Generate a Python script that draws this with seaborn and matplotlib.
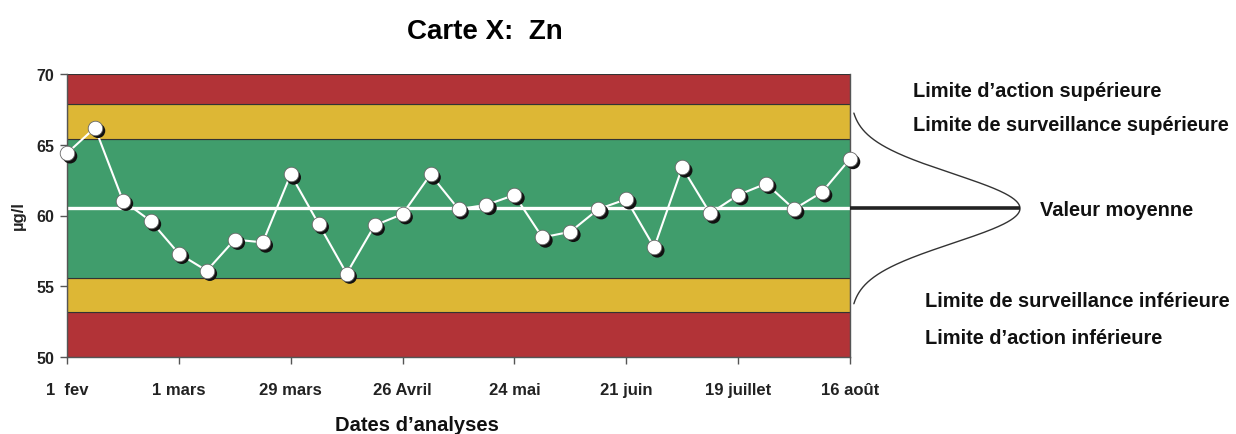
import matplotlib
matplotlib.use("Agg")
import matplotlib.pyplot as plt
import matplotlib.transforms as mtransforms
import numpy as np
import pandas as pd
import seaborn as sns

# weekly analyses, Zn (µg/l)
dates = ["2009-02-01", "2009-02-08", "2009-02-15", "2009-02-22", "2009-03-01",
         "2009-03-08", "2009-03-15", "2009-03-22", "2009-03-29", "2009-04-05",
         "2009-04-12", "2009-04-19", "2009-04-26", "2009-05-03", "2009-05-10",
         "2009-05-17", "2009-05-24", "2009-05-31", "2009-06-07", "2009-06-14",
         "2009-06-21", "2009-06-28", "2009-07-05", "2009-07-12", "2009-07-19",
         "2009-07-26", "2009-08-02", "2009-08-09", "2009-08-16"]
zn = [64.4, 66.2, 61.05, 59.6, 57.3, 56.1, 58.3, 58.1, 62.9, 59.4,
      55.9, 59.3, 60.1, 62.9, 60.45, 60.75, 61.45, 58.45, 58.85, 60.45,
      61.15, 57.75, 63.4, 60.15, 61.45, 62.25, 60.45, 61.65, 64.0]

mean_val = 60.5
sigma = 2.45

tick_dates = ["2009-02-01", "2009-03-01", "2009-03-29", "2009-04-26",
              "2009-05-24", "2009-06-21", "2009-07-19", "2009-08-16"]
tick_labels = ["1  fev", "1 mars", "29 mars", "26 Avril", "24 mai",
               "21 juin", "19 juillet", "16 août"]

zone_labels = ["Limite d\u2019action supérieure",
               "Limite de surveillance supérieure",
               "Valeur moyenne",
               "Limite de surveillance inférieure",
               "Limite d\u2019action inférieure"]

df = pd.DataFrame({"date": pd.to_datetime(dates), "zn": zn})

sns.set_style("white")
plt.rcParams["font.family"] = ["Liberation Sans", "DejaVu Sans"]

RED = "#b23337"
YELLOW = "#ddb735"
GREEN = "#409d6c"

fig = plt.figure(figsize=(12.36, 4.35), dpi=100)
ax = fig.add_axes([67 / 1236, 77 / 435, 783 / 1236, 283 / 435])

lai, lsi = mean_val - 3 * sigma, mean_val - 2 * sigma
lss, las = mean_val + 2 * sigma, mean_val + 3 * sigma
bands = [(50, lai, RED), (lai, lsi, YELLOW), (lsi, lss, GREEN),
         (lss, las, YELLOW), (las, 70, RED)]
for lo, hi, col in bands:
    ax.axhspan(lo, hi, facecolor=col, edgecolor="#333333", linewidth=0.8, zorder=1)
ax.axhline(mean_val, color="white", linewidth=2.4, zorder=2)

sns.lineplot(data=df, x="date", y="zn", ax=ax, color="white", linewidth=1.5,
             zorder=3)
shadow = mtransforms.offset_copy(ax.transData, fig=fig, x=3, y=-3, units="dots")
sns.scatterplot(data=df, x="date", y="zn", ax=ax, color="#111111", s=110,
                edgecolor="none", transform=shadow, zorder=4, clip_on=False)
sns.scatterplot(data=df, x="date", y="zn", ax=ax, color="white", s=110,
                edgecolor="#666666", linewidth=0.6, zorder=5, clip_on=False)

ax.set_ylim(50, 70)
ax.set_xlim(pd.Timestamp(tick_dates[0]), pd.Timestamp(tick_dates[-1]))
ax.set_yticks([50, 55, 60, 65, 70])
ax.set_xticks(pd.to_datetime(tick_dates))
ax.set_xticklabels(tick_labels)
ax.tick_params(axis="both", direction="out", length=5, width=1, color="#555555",
               labelcolor="#222222")
ax.tick_params(axis="x", pad=13, labelsize=12)
ax.tick_params(axis="y", pad=4, labelsize=11.5)
for lab in ax.get_xticklabels() + ax.get_yticklabels():
    lab.set_fontweight("bold")
ax.tick_params(left=True, bottom=True)
for side in ["left", "bottom", "right"]:
    ax.spines[side].set_color("#555555")
    ax.spines[side].set_linewidth(1)
ax.spines["top"].set_visible(False)

ax.set_title("Carte X:  Zn", fontsize=20, fontweight="bold", color="black",
             x=0.534, y=1.152, va="center", pad=0)
ax.set_xlabel("Dates d\u2019analyses", fontsize=14.5, fontweight="bold",
              color="#111111")
ax.xaxis.set_label_coords(0.447, -0.205)
ax.set_ylabel("µg/l", fontsize=12, fontweight="bold", color="#222222")
ax.yaxis.set_label_coords(-0.052, 0.505)

# normal curve and zone labels right of the chart
ax2 = fig.add_axes([850 / 1236, 77 / 435, 386 / 1236, 283 / 435])
ax2.set_xlim(0, 386)
ax2.set_ylim(50, 70)
ax2.axis("off")
yy = np.linspace(mean_val - 2.75 * sigma, mean_val + 2.75 * sigma, 300)
xx = 170 * np.exp(-((yy - mean_val) ** 2) / (2 * sigma ** 2))
ax2.plot(xx, yy, color="#333333", linewidth=1.0)
ax2.plot([0, 170], [mean_val, mean_val], color="#222222", linewidth=2.6,
         solid_capstyle="butt")

label_pos = [(63, 68.8), (63, 66.4), (190, 60.45), (75, 54.0), (75, 51.4)]
for (lx, ly), txt in zip(label_pos, zone_labels):
    ax2.text(lx, ly, txt, fontsize=14.4, fontweight="bold", color="#111111",
             ha="left", va="center")

fig.savefig("out.png", dpi=100)
